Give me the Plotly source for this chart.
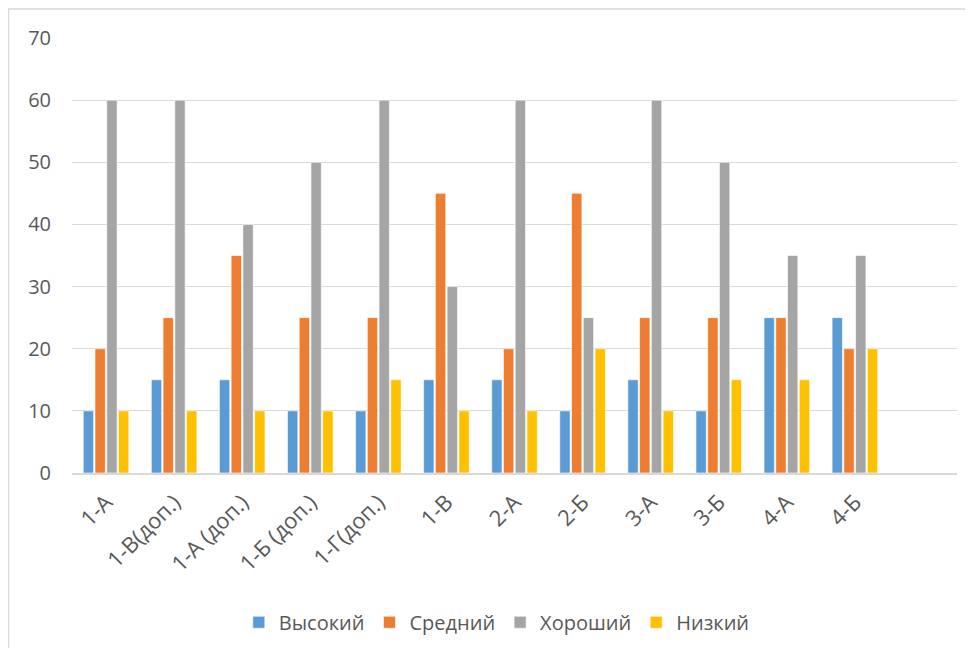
import plotly.graph_objects as go

categories = ["1-А", "1-В(доп.)", "1-А (доп.)", "1-Б (доп.)", "1-Г(доп.)", "1-В",
              "2-А", "2-Б", "3-А", "3-Б", "4-А", "4-Б"]
vysokiy = [10, 15, 15, 10, 10, 15, 15, 10, 15, 10, 25, 25]
sredniy = [20, 25, 35, 25, 25, 45, 20, 45, 25, 25, 25, 20]
khoroshiy = [60, 60, 40, 50, 60, 30, 60, 25, 60, 50, 35, 35]
nizkiy = [10, 10, 10, 10, 15, 10, 10, 20, 10, 15, 15, 20]

series = [
    ("Высокий", vysokiy, "#5B9BD5"),
    ("Средний", sredniy, "#ED7D31"),
    ("Хороший", khoroshiy, "#A5A5A5"),
    ("Низкий", nizkiy, "#FFC000"),
]

FONT = "Open Sans"
TXT = "#595959"

W, H = 957, 640
L, T, R, B = 64, 30, 8, 174
PW, PH = W - L - R, H - T - B

fig = go.Figure()
for name, vals, color in series:
    fig.add_trace(go.Bar(
        x=categories, y=vals, name=name,
        marker=dict(color=color, line=dict(color="white", width=0.6)),
    ))

fig.update_layout(
    width=W, height=H,
    margin=dict(l=L, r=R, t=T, b=B),
    paper_bgcolor="white", plot_bgcolor="white",
    barmode="group", bargap=0.31, bargroupgap=0.12,
    font=dict(family=FONT, color=TXT, size=19),
    showlegend=True,
    legend=dict(orientation="h", x=0.48, xanchor="center", y=-0.34, yanchor="middle",
                font=dict(size=20, color=TXT), itemwidth=30, traceorder="normal"),
    xaxis=dict(
        type="category", categoryorder="array", categoryarray=categories,
        range=[-0.5, 12.5], tickangle=-45, showgrid=False,
        showline=True, linecolor="#D9D9D9", linewidth=1.5,
        ticks="", tickfont=dict(size=22, color=TXT), zeroline=False,
        ticklabelstandoff=6,
    ),
    yaxis=dict(
        range=[0, 70], dtick=10, showgrid=True, gridcolor="#D9D9D9", gridwidth=1,
        showline=False, zeroline=False, ticks="", ticklen=0,
        tickfont=dict(size=20, color=TXT), ticklabelstandoff=20,
    ),
    shapes=[dict(type="rect", xref="paper", yref="paper",
                 x0=(0.5 - L) / PW, x1=(W + 20 - L) / PW,
                 y0=(T + PH - (H + 20)) / PH, y1=(T + PH - 1) / PH,
                 line=dict(color="#D9D9D9", width=1.5), fillcolor="rgba(0,0,0,0)",
                 layer="below")],
)

fig.write_html("out.html")
